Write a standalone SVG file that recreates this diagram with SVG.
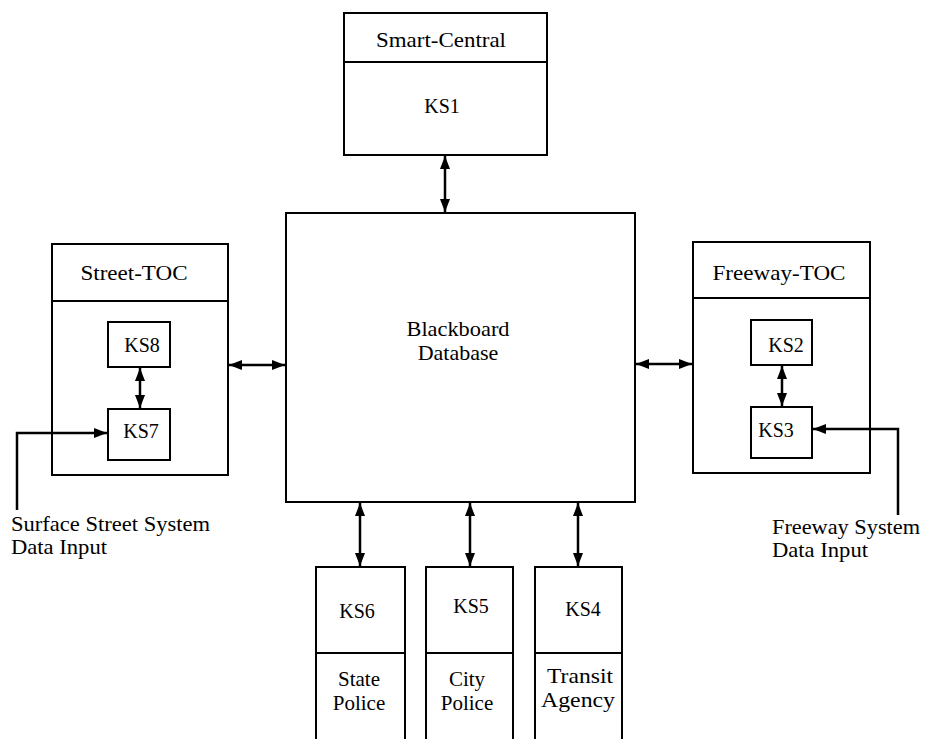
<svg xmlns="http://www.w3.org/2000/svg" width="925" height="739" viewBox="0 0 925 739">
<defs>
<marker id="ah" viewBox="0 0 13 10" refX="13" refY="5" markerWidth="13" markerHeight="10" markerUnits="userSpaceOnUse" orient="auto-start-reverse">
<path d="M0,0 L13,5 L0,10 Z" fill="#000"/>
</marker>
<style>
rect, .box { fill: #fff; stroke: #000; stroke-width: 2; }
line.div { stroke: #000; stroke-width: 2; }
.t { font-family: "Liberation Serif", "Times New Roman", serif; font-size: 22px; fill: #000; }
.k { font-size: 20px; }
.s { font-size: 21px; }
.c { text-anchor: middle; }
.conn { stroke: #000; stroke-width: 2.5; fill: none; }
.bi { marker-start: url(#ah); marker-end: url(#ah); }
.uni { marker-end: url(#ah); }
</style>
</defs>
<rect x="0" y="0" width="925" height="739" style="fill:#fff;stroke:none"/>

<g id="smart-central">
<rect x="344" y="13" width="203" height="142"/>
<line class="div" x1="344" y1="62" x2="547" y2="62"/>
<text class="t c" x="441" y="47" textLength="130" lengthAdjust="spacingAndGlyphs">Smart-Central</text>
<text class="t k c" x="442" y="113">KS1</text>
</g>

<g id="blackboard">
<rect x="286" y="213" width="349" height="289"/>
<text class="t c" x="458" y="336" textLength="103" lengthAdjust="spacingAndGlyphs">Blackboard</text>
<text class="t c" x="458" y="360">Database</text>
</g>

<g id="street-toc">
<rect x="52" y="244" width="176" height="231"/>
<line class="div" x1="52" y1="301" x2="228" y2="301"/>
<text class="t c" x="134" y="280" textLength="107" lengthAdjust="spacingAndGlyphs">Street-TOC</text>
</g>
<g id="ks8">
<rect x="108" y="322" width="62" height="45"/>
<text class="t k c" x="142" y="352">KS8</text>
</g>
<g id="ks7">
<rect x="108" y="409" width="62" height="51"/>
<text class="t k c" x="141" y="438">KS7</text>
</g>

<g id="freeway-toc">
<rect x="693" y="242" width="177" height="231"/>
<line class="div" x1="693" y1="298" x2="870" y2="298"/>
<text class="t c" x="779" y="280" textLength="133" lengthAdjust="spacingAndGlyphs">Freeway-TOC</text>
</g>
<g id="ks2">
<rect x="751" y="320" width="61" height="45"/>
<text class="t k c" x="786" y="352">KS2</text>
</g>
<g id="ks3">
<rect x="751" y="407" width="61" height="51"/>
<text class="t k c" x="776" y="437">KS3</text>
</g>

<g id="ks6">
<rect x="316" y="567" width="89" height="180"/>
<line class="div" x1="316" y1="653" x2="405" y2="653"/>
<text class="t k c" x="357" y="618">KS6</text>
<text class="t s c" x="359" y="686">State</text>
<text class="t s c" x="359" y="710">Police</text>
</g>
<g id="ks5">
<rect x="426" y="567" width="87" height="180"/>
<line class="div" x1="426" y1="653" x2="513" y2="653"/>
<text class="t k c" x="471" y="613">KS5</text>
<text class="t s c" x="467" y="686">City</text>
<text class="t s c" x="467" y="710">Police</text>
</g>
<g id="ks4">
<rect x="535" y="567" width="87" height="180"/>
<line class="div" x1="535" y1="653" x2="622" y2="653"/>
<text class="t k c" x="583" y="616">KS4</text>
<text class="t s c" x="580" y="683" textLength="66" lengthAdjust="spacingAndGlyphs">Transit</text>
<text class="t s c" x="578" y="707" textLength="74" lengthAdjust="spacingAndGlyphs">Agency</text>
</g>

<g id="surface-input-label">
<text class="t s" x="11" y="531" textLength="199" lengthAdjust="spacingAndGlyphs">Surface Street System</text>
<text class="t s" x="11" y="554" textLength="96" lengthAdjust="spacingAndGlyphs">Data Input</text>
</g>
<g id="freeway-input-label">
<text class="t s" x="772" y="534" textLength="148" lengthAdjust="spacingAndGlyphs">Freeway System</text>
<text class="t s" x="772" y="557" textLength="96" lengthAdjust="spacingAndGlyphs">Data Input</text>
</g>

<g id="connectors">
<line class="conn bi" x1="445" y1="156" x2="445" y2="212"/>
<line class="conn bi" x1="229" y1="365" x2="285" y2="365"/>
<line class="conn bi" x1="636" y1="364" x2="692" y2="364"/>
<line class="conn bi" x1="140" y1="368" x2="140" y2="408"/>
<line class="conn bi" x1="782" y1="366" x2="782" y2="406"/>
<line class="conn bi" x1="360" y1="503" x2="360" y2="566"/>
<line class="conn bi" x1="470" y1="503" x2="470" y2="566"/>
<line class="conn bi" x1="578" y1="503" x2="578" y2="566"/>
<polyline class="conn uni" points="17,510 17,433 107,433"/>
<polyline class="conn uni" points="898,515 898,429 813,429"/>
</g>
</svg>
